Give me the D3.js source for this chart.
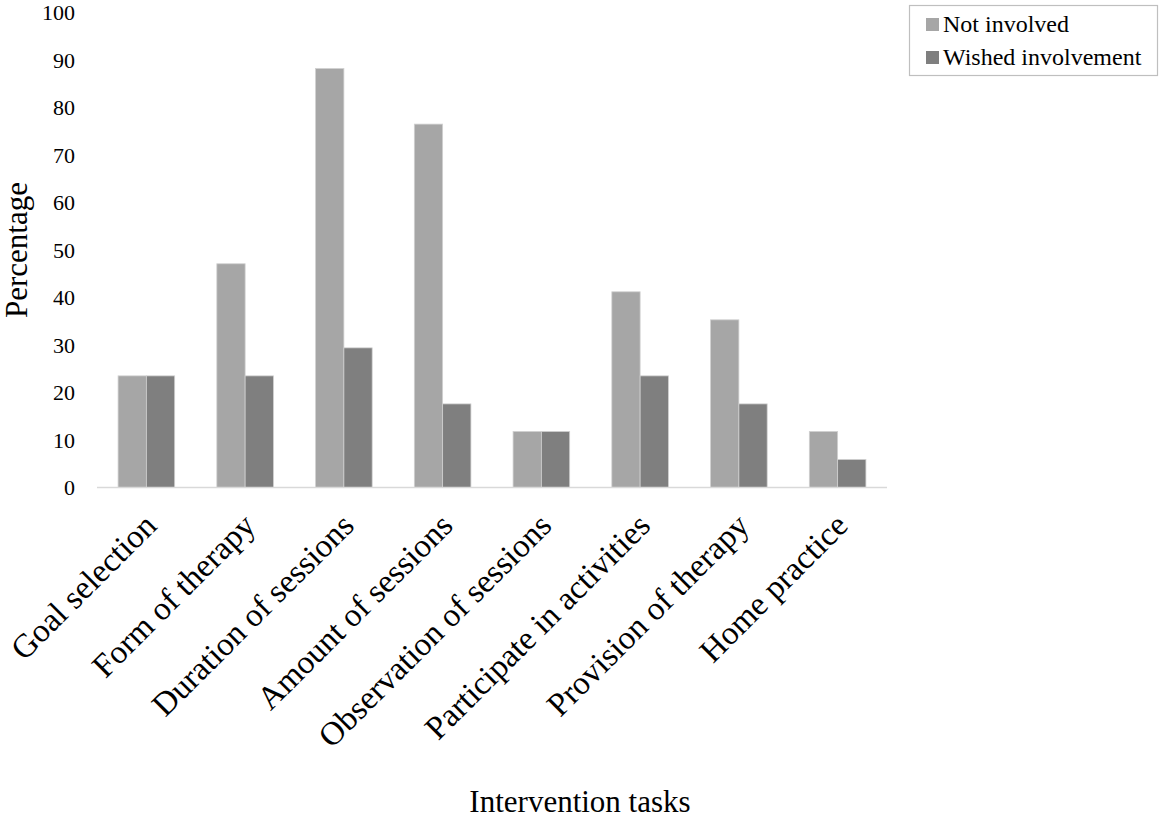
<!DOCTYPE html>
<html>
<head>
<meta charset="utf-8">
<script src="https://cdn.jsdelivr.net/npm/d3@7"></script>
<style>
  html, body { margin: 0; padding: 0; background: #ffffff; }
  svg text { font-family: "Liberation Serif", "Times New Roman", serif; }
</style>
</head>
<body>
<svg id="chart" width="1161" height="818"></svg>
<script>
// Intervention tasks and the two response series (percent of respondents)
const categories = [
  "Goal selection",
  "Form of therapy",
  "Duration of sessions",
  "Amount of sessions",
  "Observation of sessions",
  "Participate in activities",
  "Provision of therapy",
  "Home practice"
];
const seriesNames = ["Not involved", "Wished involvement"];
const notInvolved = [23.5, 47.1, 88.2, 76.5, 11.8, 41.2, 35.3, 11.8];
const wishedInvolvement = [23.5, 23.5, 29.4, 17.6, 11.8, 23.5, 17.6, 5.9];
const yTicks = [0, 10, 20, 30, 40, 50, 60, 70, 80, 90, 100];
const seriesColors = ["#a6a6a6", "#7f7f7f"];

const SERIF = '"Liberation Serif", "Times New Roman", serif';

const svg = d3.select("#chart");

const plot = { left: 97, right: 887, top: 12.5, bottom: 487.5 };

const x0 = d3.scaleBand()
  .domain(categories)
  .range([plot.left, plot.right])
  .padding(0);

const x1 = d3.scaleBand()
  .domain(seriesNames)
  .range([0, x0.bandwidth()])
  .paddingInner(0)
  .paddingOuter(0.745);

const y = d3.scaleLinear()
  .domain([0, 100])
  .range([plot.bottom, plot.top]);

const color = d3.scaleOrdinal().domain(seriesNames).range(seriesColors);

const rows = categories.map((c, i) => ({
  category: c,
  values: [
    { key: seriesNames[0], value: notInvolved[i] },
    { key: seriesNames[1], value: wishedInvolvement[i] }
  ]
}));

// Bars
const groups = svg.append("g")
  .selectAll("g")
  .data(rows)
  .join("g")
  .attr("transform", d => `translate(${x0(d.category)},0)`);

groups.selectAll("rect")
  .data(d => d.values)
  .join("rect")
  .attr("x", d => x1(d.key))
  .attr("y", d => y(d.value))
  .attr("width", x1.bandwidth())
  .attr("height", d => y(0) - y(d.value))
  .attr("fill", d => color(d.key))
  .attr("stroke", "#d0d0d0")
  .attr("stroke-width", 0.8);

// Category axis line
svg.append("line")
  .attr("x1", plot.left)
  .attr("x2", plot.right)
  .attr("y1", plot.bottom)
  .attr("y2", plot.bottom)
  .attr("stroke", "#d9d9d9")
  .attr("stroke-width", 1.5);

// Value axis labels (no axis line)
const yAxis = d3.axisLeft(y)
  .tickValues(yTicks)
  .tickSize(0)
  .tickPadding(0)
  .tickFormat(d3.format("d"));

const yAxisG = svg.append("g")
  .attr("transform", "translate(75,0)")
  .call(yAxis)
  .attr("font-family", null)
  .attr("font-size", null);
yAxisG.select(".domain").remove();
yAxisG.selectAll("text")
  .style("font-family", SERIF)
  .style("font-size", "22px")
  .attr("fill", "#000");

// Rotated category labels
const xAxis = d3.axisBottom(x0).tickSize(0).tickPadding(0);
const xAxisG = svg.append("g")
  .attr("transform", `translate(0,${plot.bottom})`)
  .call(xAxis)
  .attr("font-family", null)
  .attr("font-size", null);
xAxisG.select(".domain").remove();
xAxisG.selectAll("text")
  .style("font-family", SERIF)
  .style("font-size", "33px")
  .attr("fill", "#000")
  .attr("dy", null)
  .attr("y", 0)
  .attr("text-anchor", "end")
  .attr("transform", "translate(12,40) rotate(-45)");

// Axis titles
svg.append("text")
  .attr("transform", "translate(27,250) rotate(-90)")
  .attr("text-anchor", "middle")
  .style("font-family", SERIF)
  .style("font-size", "31px")
  .attr("fill", "#000")
  .text("Percentage");

svg.append("text")
  .attr("x", 580)
  .attr("y", 812)
  .attr("text-anchor", "middle")
  .style("font-family", SERIF)
  .style("font-size", "31px")
  .attr("fill", "#000")
  .text("Intervention tasks");

// Legend
const legend = svg.append("g");
legend.append("rect")
  .attr("x", 909.5)
  .attr("y", 5.5)
  .attr("width", 248)
  .attr("height", 70)
  .attr("fill", "#fff")
  .attr("stroke", "#bfbfbf")
  .attr("stroke-width", 1.2);

const legendItems = legend.selectAll("g.item")
  .data(seriesNames)
  .join("g")
  .attr("class", "item")
  .attr("transform", (d, i) => `translate(926,${18 + i * 33})`);

legendItems.append("rect")
  .attr("width", 13)
  .attr("height", 13)
  .attr("fill", d => color(d));

legendItems.append("text")
  .attr("x", 17)
  .attr("y", 14)
  .style("font-family", SERIF)
  .style("font-size", "24px")
  .attr("fill", "#000")
  .text(d => d);
</script>
</body>
</html>
